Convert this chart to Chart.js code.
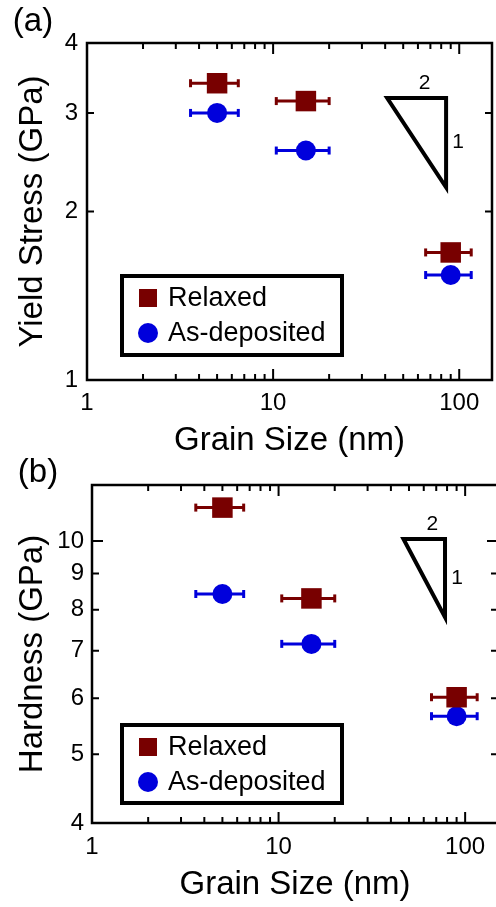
<!DOCTYPE html>
<html>
<head>
<meta charset="utf-8">
<script src="https://cdn.jsdelivr.net/npm/chart.js@4.4.1/dist/chart.umd.min.js"></script>
<style>
  html, body { margin: 0; padding: 0; background: #fff; overflow: hidden; }
  body { width: 496px; height: 907px; position: relative; }
  canvas { position: absolute; left: 0; }
  #yieldChart { top: 0; }
  #hardChart { top: 448px; }
</style>
</head>
<body>
<canvas id="yieldChart" width="496" height="462"></canvas>
<canvas id="hardChart" width="502" height="459"></canvas>
<script>
// grain sizes (nm) and their horizontal error ranges
const grainSize = [5, 15, 90];
const grainLow = [3.6, 10.4, 66];
const grainHigh = [6.5, 20, 116];

// yield stress (GPa)
const yieldRelaxed = [3.39, 3.15, 1.69];
const yieldAsDep = [3.0, 2.57, 1.54];

// hardness (GPa)
const hardRelaxed = [11.15, 8.30, 6.02];
const hardAsDep = [8.42, 7.16, 5.66];

// axis ticks
const xTicks = [1, 10, 100];
const xMinor = [2, 3, 4, 5, 6, 7, 8, 9, 20, 30, 40, 50, 60, 70, 80, 90];
const yieldTicks = [1, 2, 3, 4];
const hardTicks = [4, 5, 6, 7, 8, 9, 10];

// slope triangles (corner x and y values)
const slopeXA = [41, 85];
const slopeYA = [3.19, 2.21];
const slopeXB = [46.7, 78];
const slopeYB = [10.07, 7.81];

const RED = '#780000';
const BLUE = '#0000dc';
const FONT = "'Liberation Sans', Arial, Helvetica, sans-serif";

function buildDatasets(relaxed, asDep, sx, sy) {
    const sets = [
        {
            label: 'Relaxed',
            data: grainSize.map((g, i) => ({ x: g, y: relaxed[i] })),
            pointStyle: 'rect', pointRadius: 14.5,
            backgroundColor: RED, borderColor: RED, borderWidth: 0, order: 0
        },
        {
            label: 'As-deposited',
            data: grainSize.map((g, i) => ({ x: g, y: asDep[i] })),
            pointStyle: 'circle', pointRadius: 10,
            backgroundColor: BLUE, borderColor: BLUE, borderWidth: 0, order: 0
        }
    ];
    // horizontal error bars with end caps
    [[relaxed, RED], [asDep, BLUE]].forEach(([vals, c]) => {
        vals.forEach((v, i) => {
            sets.push({
                label: '',
                data: [{ x: grainLow[i], y: v }, { x: grainHigh[i], y: v }],
                showLine: true,
                borderColor: c, borderWidth: 3,
                pointStyle: 'line', pointRotation: 90, pointRadius: 4,
                pointBorderWidth: 3, pointBorderColor: c,
                order: 1
            });
        });
    });
    // slope triangle, first edge repeated so the corner is joined
    const c0 = { x: sx[0], y: sy[0] }, c1 = { x: sx[1], y: sy[0] }, c2 = { x: sx[1], y: sy[1] };
    sets.push({
        label: '',
        data: [c0, c1, c2, c0, c1],
        showLine: true,
        borderColor: '#000', borderWidth: 4, borderJoinStyle: 'miter',
        pointRadius: 0, order: 2
    });
    return sets;
}

// frame, inward ticks, legend box, slope labels and panel letter
const decor = {
    id: 'decor',
    afterDatasetsDraw(chart, args, o) {
        const { ctx, chartArea: a, scales: { x, y } } = chart;
        ctx.save();
        ctx.strokeStyle = '#000';
        ctx.lineWidth = 2;
        ctx.beginPath();
        const marks = (scale, values, len) => {
            values.forEach(v => {
                const p = scale.getPixelForValue(v);
                if (scale.isHorizontal()) {
                    ctx.moveTo(p, a.bottom); ctx.lineTo(p, a.bottom - len);
                    ctx.moveTo(p, a.top); ctx.lineTo(p, a.top + len);
                } else {
                    ctx.moveTo(a.left, p); ctx.lineTo(a.left + len, p);
                    ctx.moveTo(a.right, p); ctx.lineTo(a.right - len, p);
                }
            });
        };
        marks(x, o.xMajor, 11);
        marks(x, o.xMinor, 6);
        marks(y, o.yMajor, 11);
        marks(y, o.yMinor, 7);
        ctx.stroke();
        ctx.lineWidth = 2.5;
        ctx.strokeRect(a.left, a.top, a.right - a.left, a.bottom - a.top);

        // slope labels
        const tx0 = x.getPixelForValue(o.slopeX[0]), tx1 = x.getPixelForValue(o.slopeX[1]);
        const ty0 = y.getPixelForValue(o.slopeY[0]), ty1 = y.getPixelForValue(o.slopeY[1]);
        ctx.fillStyle = '#000';
        ctx.font = '21px ' + FONT;
        ctx.textAlign = 'center';
        ctx.textBaseline = 'middle';
        ctx.fillText('2', (tx0 + tx1) / 2 + 8, ty0 - 15);
        ctx.fillText('1', tx1 + 12, (ty0 + ty1) / 2);

        // legend
        const lg = o.legend;
        ctx.lineWidth = 4;
        ctx.strokeRect(lg.left, lg.top, lg.width, lg.height);
        ctx.font = '27px ' + FONT;
        ctx.textAlign = 'left';
        [0, 1].forEach(i => {
            const ds = chart.data.datasets[i];
            const cy = lg.top + lg.firstRow + i * lg.rowGap;
            ctx.fillStyle = ds.backgroundColor;
            if (ds.pointStyle === 'rect') {
                ctx.fillRect(lg.markerX - 9, cy - 9, 18, 18);
            } else {
                ctx.beginPath();
                ctx.arc(lg.markerX, cy, 10, 0, Math.PI * 2);
                ctx.fill();
            }
            ctx.fillStyle = '#000';
            ctx.fillText(ds.label, lg.textX, cy + 1);
        });

        // panel letter
        ctx.font = '33px ' + FONT;
        ctx.textAlign = 'center';
        ctx.fillText(o.panel.text, o.panel.x, o.panel.y);
        ctx.restore();
    }
};

function makeChart(id, cfg) {
    const ctx = document.getElementById(id).getContext('2d');
    return new Chart(ctx, {
        type: 'scatter',
        data: { datasets: buildDatasets(cfg.relaxed, cfg.asDep, cfg.slopeX, cfg.slopeY) },
        options: {
            responsive: false,
            animation: false,
            devicePixelRatio: 1,
            layout: { autoPadding: false, padding: { top: cfg.top, right: 4, left: 0, bottom: 0 } },
            plugins: {
                legend: { display: false },
                tooltip: { enabled: false },
                decor: {
                    xMajor: xTicks, xMinor: xMinor,
                    yMajor: cfg.yMajor, yMinor: cfg.yMinor,
                    slopeX: cfg.slopeX, slopeY: cfg.slopeY,
                    legend: cfg.legend, panel: cfg.panel
                }
            },
            scales: {
                x: {
                    type: 'logarithmic', min: 1, max: 150, bounds: 'data',
                    grid: { display: false, drawTicks: false }, border: { display: false },
                    ticks: {
                        autoSkip: false, maxRotation: 0, padding: cfg.xTickPad, color: '#000',
                        font: { family: FONT, size: 24 },
                        callback: v => String(v)
                    },
                    afterBuildTicks: s => { s.ticks = xTicks.map(v => ({ value: v })); },
                    afterFit: s => {
                        s.height = cfg.xHeight;
                        s.paddingLeft = 0;
                        s.paddingRight = 0;
                    },
                    title: {
                        display: true, text: 'Grain Size (nm)', color: '#000',
                        font: { family: FONT, size: 33 },
                        padding: { top: 0, bottom: cfg.xTitlePad }
                    }
                },
                y: {
                    type: 'logarithmic', min: cfg.yMin, max: cfg.yMax, bounds: 'data',
                    grid: { display: false, drawTicks: false }, border: { display: false },
                    ticks: {
                        autoSkip: false, padding: cfg.yTickPad, color: '#000',
                        font: { family: FONT, size: 24 },
                        callback: v => String(v)
                    },
                    afterBuildTicks: s => { s.ticks = cfg.yTicks.map(v => ({ value: v })); },
                    afterFit: s => {
                        s.width = cfg.yWidth;
                        s.paddingTop = 0;
                        s.paddingBottom = 0;
                    },
                    title: {
                        display: true, text: cfg.yTitle, color: '#000',
                        font: { family: FONT, size: 33 },
                        padding: { top: 13, bottom: 0 }
                    }
                }
            }
        },
        plugins: [decor]
    });
}

makeChart('yieldChart', {
    relaxed: yieldRelaxed, asDep: yieldAsDep,
    slopeX: slopeXA, slopeY: slopeYA,
    top: 43, xHeight: 82, yWidth: 87, xTitlePad: 1, xTickPad: 9, yTickPad: 9,
    yMin: 1, yMax: 4, yTicks: yieldTicks, yMajor: [], yMinor: [2, 3],
    yTitle: 'Yield Stress (GPa)',
    legend: { left: 122, top: 276, width: 220, height: 79, firstRow: 22, rowGap: 35, markerX: 148, textX: 168 },
    panel: { text: '(a)', x: 33, y: 22 }
});

makeChart('hardChart', {
    relaxed: hardRelaxed, asDep: hardAsDep,
    slopeX: slopeXB, slopeY: slopeYB,
    top: 37, xHeight: 84, yWidth: 92, xTitlePad: 2, xTickPad: 9.5, yTickPad: 8,
    yMin: 4, yMax: 12, yTicks: hardTicks, yMajor: [10], yMinor: [5, 6, 7, 8, 9],
    yTitle: 'Hardness (GPa)',
    legend: { left: 122, top: 277, width: 220, height: 78, firstRow: 22, rowGap: 35, markerX: 148, textX: 168 },
    panel: { text: '(b)', x: 38, y: 25 }
});
</script>
</body>
</html>
